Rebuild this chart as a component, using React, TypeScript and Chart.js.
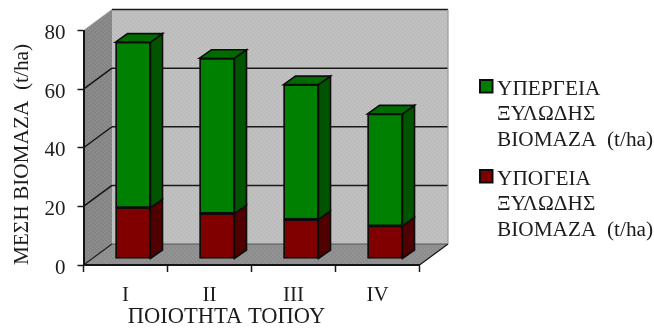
import React, { useEffect, useRef } from "react";
import { Chart, registerables } from "chart.js";

Chart.register(...registerables);

const categories = ["I", "II", "III", "IV"];
const belowGround = [17.5, 15.5, 13.5, 11.3];
const aboveGround = [56.5, 53, 46, 38.2];
const aboveLabel = ["ΥΠΕΡΓΕΙΑ", "ΞΥΛΩΔΗΣ", "ΒΙΟΜΑΖΑ  (t/ha)"];
const belowLabel = ["ΥΠΟΓΕΙΑ", "ΞΥΛΩΔΗΣ", "ΒΙΟΜΑΖΑ  (t/ha)"];
const xTitle = "ΠΟΙΟΤΗΤΑ ΤΟΠΟΥ";
const yTitle = "ΜΕΣΗ ΒΙΟΜΑΖΑ  (t/ha)";

const FONT = '"Liberation Serif", serif';
const INK = "#1c1c1c";
const WALL = { dx: 28.5, dy: 21 };
const BAR_SHIFT = { dx: 7.5, dy: 6 };
const BAR_DEPTH = { dx: 12, dy: 8.5 };

function dotted(ctx: CanvasRenderingContext2D, base: string, dot: string) {
  const c = document.createElement("canvas");
  c.width = 4;
  c.height = 4;
  const p = c.getContext("2d")!;
  p.fillStyle = base;
  p.fillRect(0, 0, 4, 4);
  p.fillStyle = dot;
  p.fillRect(0, 0, 1, 1);
  p.fillRect(2, 2, 1, 1);
  return ctx.createPattern(c, "repeat")!;
}

function poly(ctx: CanvasRenderingContext2D, pts: number[][], fill?: any, stroke?: string, lw = 2) {
  ctx.beginPath();
  pts.forEach((p, i) => (i ? ctx.lineTo(p[0], p[1]) : ctx.moveTo(p[0], p[1])));
  ctx.closePath();
  if (fill) {
    ctx.fillStyle = fill;
    ctx.fill();
  }
  if (stroke) {
    ctx.strokeStyle = stroke;
    ctx.lineWidth = lw;
    ctx.stroke();
  }
}

function seg(ctx: CanvasRenderingContext2D, x1: number, y1: number, x2: number, y2: number, color: string, lw: number) {
  ctx.beginPath();
  ctx.moveTo(x1, y1);
  ctx.lineTo(x2, y2);
  ctx.strokeStyle = color;
  ctx.lineWidth = lw;
  ctx.stroke();
}

const scene = {
  id: "scene",
  beforeDraw(chart: any) {
    const { ctx, chartArea: a, scales } = chart;
    const { dx, dy } = WALL;
    ctx.save();
    poly(ctx, [[a.left + dx, a.top - dy], [a.right + dx, a.top - dy], [a.right + dx, a.bottom - dy], [a.left + dx, a.bottom - dy]], dotted(ctx, "#bdbdbd", "#c8c8c8"));
    poly(ctx, [[a.left, a.top], [a.left + dx, a.top - dy], [a.left + dx, a.bottom - dy], [a.left, a.bottom]], dotted(ctx, "#868686", "#959595"));
    poly(ctx, [[a.left, a.bottom], [a.right, a.bottom], [a.right + dx, a.bottom - dy], [a.left + dx, a.bottom - dy]], dotted(ctx, "#8e8e8e", "#9c9c9c"));
    scales.y.ticks.forEach((t: any) => {
      const y = scales.y.getPixelForValue(t.value);
      if (t.value > 0) {
        seg(ctx, a.left, y, a.left + dx, y - dy, t.value === 80 ? "#a8a8a8" : "#141414", t.value === 80 ? 1 : 1.5);
        seg(ctx, a.left + dx, y - dy, a.right + dx, y - dy, "#1a1a1a", 1.5);
      } else {
        seg(ctx, a.left, y, a.left + dx, y - dy, "#222", 1.3);
        seg(ctx, a.left + dx, y - dy, a.right + dx, y - dy, "#555", 1);
      }
    });
    seg(ctx, a.right, a.bottom, a.right + dx, a.bottom - dy, "#1a1a1a", 1.3);
    seg(ctx, a.right + dx, a.top - dy, a.right + dx, a.bottom - dy, "#999", 1.2);
    ctx.restore();
  },
  beforeDatasetsDraw(chart: any) {
    const { ctx } = chart;
    const { dx, dy } = BAR_DEPTH;
    ctx.save();
    ctx.translate(BAR_SHIFT.dx, -BAR_SHIFT.dy);
    const sides = ["#500000", "#005400"];
    const last = chart.data.datasets.length - 1;
    chart.data.datasets.forEach((_: any, di: number) => {
      chart.getDatasetMeta(di).data.forEach((el: any) => {
        const { x, y, base, width } = el.getProps(["x", "y", "base", "width"], true);
        const r = x + width / 2;
        const l = x - width / 2;
        poly(ctx, [[r, y], [r + dx, y - dy], [r + dx, base - dy], [r, base]], sides[di], "#0c0c0c", 1.6);
        if (di === last) {
          poly(ctx, [[l, y], [r, y], [r + dx, y - dy], [l + dx, y - dy]], "#006c00", "#0c0c0c", 1.6);
        }
      });
    });
  },
  afterDatasetsDraw(chart: any) {
    chart.ctx.restore();
  },
  afterDraw(chart: any) {
    const { ctx, data } = chart;
    ctx.save();
    ctx.fillStyle = INK;
    ctx.textBaseline = "alphabetic";
    ctx.textAlign = "center";
    ctx.font = `22.5px ${FONT}`;
    ctx.fillText(xTitle, 226.5, 323);
    ctx.font = `21.3px ${FONT}`;
    ctx.save();
    ctx.translate(28, 154.5);
    ctx.rotate(-Math.PI / 2);
    ctx.fillText(yTitle, 0, 0);
    ctx.restore();
    ctx.textAlign = "left";
    ctx.font = `21.3px ${FONT}`;
    const entries = [
      { ds: data.datasets[1], lines: aboveLabel, box: 80, base: [95, 120, 146] },
      { ds: data.datasets[0], lines: belowLabel, box: 170, base: [185, 210, 236] },
    ];
    entries.forEach((e) => {
      ctx.fillStyle = e.ds.backgroundColor;
      ctx.strokeStyle = "#0c0c0c";
      ctx.lineWidth = 2;
      ctx.fillRect(480, e.box, 12.5, 12.5);
      ctx.strokeRect(480, e.box, 12.5, 12.5);
      ctx.fillStyle = INK;
      e.lines.forEach((ln: string, i: number) => ctx.fillText(ln, 497, e.base[i]));
    });
    ctx.restore();
  },
};

export default function App() {
  const ref = useRef<HTMLCanvasElement>(null);
  useEffect(() => {
    const chart = new Chart(ref.current!, {
      type: "bar",
      data: {
        labels: categories,
        datasets: [
          { label: belowLabel.join(" "), data: belowGround, backgroundColor: "#800000", borderColor: "#0c0c0c", borderWidth: 1.8, borderSkipped: false, barThickness: 35, clip: false },
          { label: aboveLabel.join(" "), data: aboveGround, backgroundColor: "#008000", borderColor: "#0c0c0c", borderWidth: 1.8, borderSkipped: false, barThickness: 35, clip: false },
        ],
      },
      options: {
        responsive: false,
        animation: false,
        layout: { padding: { top: 30.5, right: 234.5, left: 0, bottom: 0 } },
        plugins: { legend: { display: false }, title: { display: false }, tooltip: { enabled: false } },
        scales: {
          x: {
            stacked: true,
            afterFit: (s: any) => { s.height = 67; },
            grid: { offset: true, drawOnChartArea: false, tickLength: 7, tickWidth: 1.5, tickColor: "#1a1a1a" },
            border: { color: "#141414", width: 2 },
            ticks: { color: INK, font: { family: FONT, size: 21 }, padding: 11, maxRotation: 0 },
          },
          y: {
            stacked: true,
            min: 0,
            max: 80,
            afterFit: (s: any) => { s.width = 83.5; },
            grid: { drawOnChartArea: false, tickLength: 6, tickWidth: 1.5, tickColor: "#1a1a1a" },
            border: { color: "#141414", width: 2 },
            ticks: { color: INK, stepSize: 20, font: { family: FONT, size: 21 }, padding: 12, labelOffset: 3 },
          },
        },
      } as any,
      plugins: [scene] as any,
    });
    return () => chart.destroy();
  }, []);
  return (
    <div style={{ position: "fixed", left: 0, top: 0, width: 654, height: 332, background: "#fff" }}>
      <canvas ref={ref} width={654} height={332} style={{ display: "block", filter: "blur(0.4px)" }} />
    </div>
  );
}
